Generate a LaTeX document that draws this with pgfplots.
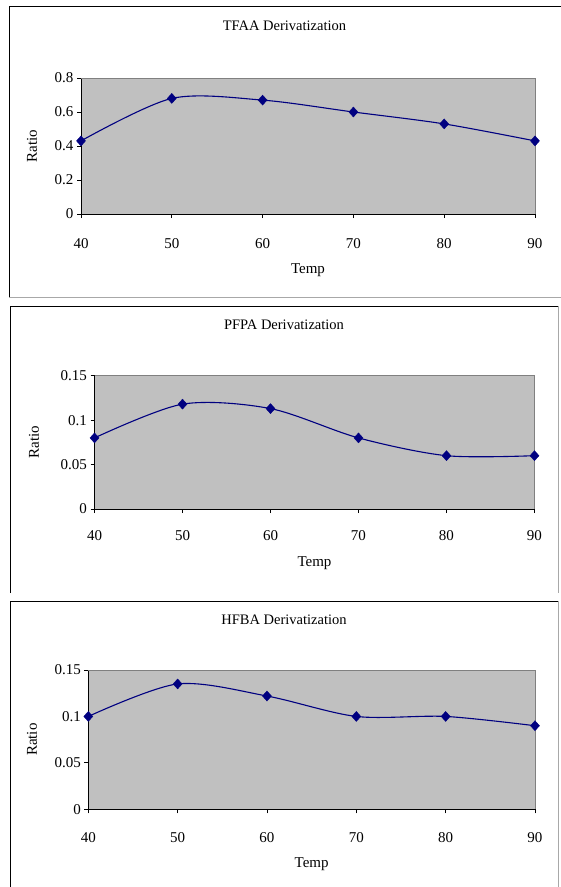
\documentclass[border=0pt]{standalone}
\usepackage{pgfplots}
\pgfplotsset{compat=1.18}
\usepackage{fontspec}
\setmainfont{Liberation Serif}
\definecolor{navyc}{HTML}{000080}
\definecolor{plotgray}{HTML}{C0C0C0}
\definecolor{framegray}{HTML}{808080}
\definecolor{boxgray}{HTML}{A8A8A8}
\newcommand{\chartfont}{\fontsize{15}{18}\selectfont}
\newcommand{\titlefont}{\fontsize{14.5}{17}\selectfont}
\pgfplotsset{
  panel/.style={
    scale only axis, anchor=south west,
    xmin=40, xmax=90, xtick={40,50,60,70,80,90},
    xticklabels={40,50,60,70,80,90},
    ymin=0,
    axis x line*=bottom, axis y line*=left,
    axis line style={black, line width=0.9pt},
    tick align=outside, major tick length=4pt,
    tick style={black, line width=0.8pt},
    axis background/.style={fill=plotgray},
    ticklabel style={font=\chartfont},
    label style={font=\chartfont},
    xticklabel style={anchor=center},
    xlabel={Temp}, ylabel={Ratio},
    xlabel style={anchor=center},
    ylabel style={anchor=center},
    clip=false,
  },
  series/.style={navyc, line width=1.1pt, smooth, tension=0.5,
    mark=diamond*, mark size=5pt,
    mark options={solid, fill=navyc, draw=navyc, line width=0.4pt, xscale=1.2}},
}
\begin{document}
\begin{tikzpicture}
\path[use as bounding box] (0,0) rectangle (561pt,-887pt);
% chart borders
\draw[black, line width=0.9pt] (9pt,-297pt) -- (9pt,-6pt) -- (561pt,-6pt);
\draw[boxgray, line width=0.9pt] (9pt,-297pt) -- (561pt,-297pt);
\draw[black, line width=0.9pt] (10pt,-593pt) -- (10pt,-306pt) -- (558pt,-306pt);
\draw[boxgray, line width=0.9pt] (558pt,-306pt) -- (558pt,-593pt);
\draw[black, line width=0.9pt] (10pt,-887pt) -- (10pt,-601pt) -- (558pt,-601pt);
\draw[boxgray, line width=0.9pt] (558pt,-601pt) -- (558pt,-887pt);
% titles
\node[font=\titlefont] at (284.5pt,-26pt) {TFAA Derivatization};
\node[font=\titlefont] at (284pt,-325pt) {PFPA Derivatization};
\node[font=\titlefont] at (284pt,-620pt) {HFBA Derivatization};

% Panel 1
\begin{axis}[panel, at={(81pt,-214pt)}, width=454pt, height=136pt,
  ymax=0.8, ytick={0,0.2,0.4,0.6,0.8}, yticklabels={0,0.2,0.4,0.6,0.8},
  xticklabel style={yshift=-26pt},
  xlabel style={at={(axis description cs:0.5,-0.412)}},
  ylabel style={at={(axis description cs:-0.108,0.5)}}]
\draw[framegray, line width=0.9pt] (rel axis cs:0,1) -- (rel axis cs:1,1) -- (rel axis cs:1,0);
\addplot[series] coordinates {(40,0.43) (50,0.68) (60,0.67) (70,0.60) (80,0.53) (90,0.43)};
\end{axis}

% Panel 2
\begin{axis}[panel, at={(94.5pt,-509pt)}, width=440pt, height=133.3pt,
  ymax=0.15, ytick={0,0.05,0.1,0.15}, yticklabels={0,0.05,0.1,0.15},
  xticklabel style={yshift=-23pt},
  xlabel style={at={(axis description cs:0.5,-0.405)}},
  ylabel style={at={(axis description cs:-0.1375,0.5)}}]
\draw[framegray, line width=0.9pt] (rel axis cs:0,1) -- (rel axis cs:1,1) -- (rel axis cs:1,0);
\addplot[series] coordinates {(40,0.08) (50,0.118) (60,0.113) (70,0.08) (80,0.06) (90,0.06)};
\end{axis}

% Panel 3
\begin{axis}[panel, at={(88.3pt,-809.3pt)}, width=446.7pt, height=139.3pt,
  ymax=0.15, ytick={0,0.05,0.1,0.15}, yticklabels={0,0.05,0.1,0.15},
  xticklabel style={yshift=-24pt},
  xlabel style={at={(axis description cs:0.5,-0.393)}},
  ylabel style={at={(axis description cs:-0.126,0.5)}}]
\draw[framegray, line width=0.9pt] (rel axis cs:0,1) -- (rel axis cs:1,1) -- (rel axis cs:1,0);
\addplot[series] coordinates {(40,0.10) (50,0.135) (60,0.122) (70,0.10) (80,0.10) (90,0.09)};
\end{axis}
\end{tikzpicture}
\end{document}
